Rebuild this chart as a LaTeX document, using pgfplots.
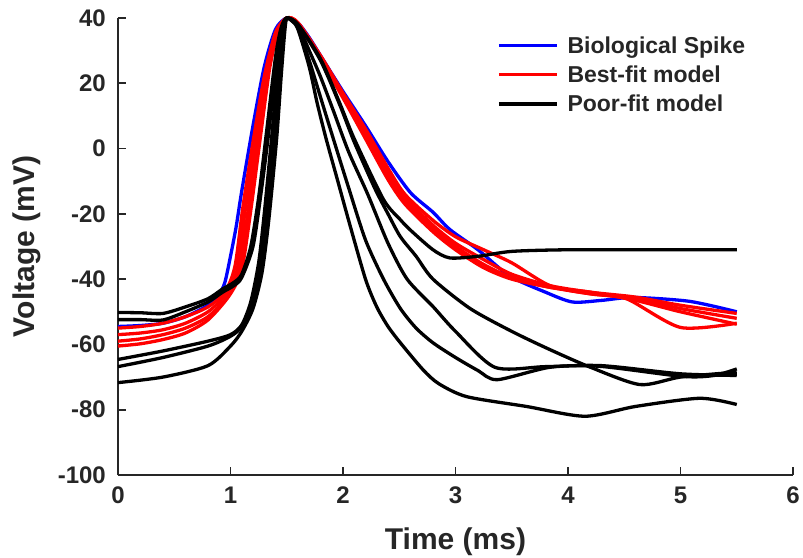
\documentclass[border=0pt]{standalone}
\usepackage{fontspec}
\setmainfont{Liberation Sans}
\usepackage{pgfplots}
\pgfplotsset{compat=1.18}
\definecolor{axgray}{RGB}{38,38,38}
\begin{document}
\begin{tikzpicture}
\useasboundingbox (-118pt,-82pt) rectangle (685pt,475pt);
\begin{axis}[
  anchor=south west, at={(0pt,0pt)},
  scale only axis, width=675pt, height=457pt,
  xmin=0, xmax=6, ymin=-100, ymax=40,
  xtick={0,1,2,3,4,5,6}, ytick={-100,-80,-60,-40,-20,0,20,40},
  axis x line=bottom, axis y line=left,
  axis line style={-, line width=2.2pt, color=axgray},
  tick align=inside, major tick length=8pt,
  tick style={line width=1.8pt, color=axgray},
  /pgf/number format/assume math mode=true,
  xticklabel={\textbf{\pgfmathprintnumber{\tick}}},
  yticklabel={\textbf{\pgfmathprintnumber{\tick}}},
  tick label style={font=\fontsize{24}{28}\selectfont\bfseries, text=axgray},
  yticklabel style={anchor=east, inner sep=0pt, xshift=-12pt},
  xticklabel style={anchor=north, inner sep=0pt, yshift=-12pt},
  xlabel={Time (ms)}, ylabel={Voltage (mV)},
  label style={font=\fontsize{30}{34}\selectfont\bfseries, text=axgray, inner sep=0pt},
  xlabel style={at={(axis description cs:0.5,-0.1455)}, anchor=center},
  ylabel style={at={(axis description cs:-0.135,0.5)}, anchor=center},
  clip=false,
  legend style={at={(axis description cs:0.5615,0.962)}, anchor=north west, draw=none, fill=none,
    font=\fontsize{23}{27}\selectfont\bfseries, text=axgray, row sep=9pt, inner sep=0pt,
    nodes={inner sep=1pt}},
  legend cell align=left,
  legend image code/.code={\draw[#1] (0pt,0pt) -- (58pt,0pt); \path (66pt,0pt);},
  every axis plot/.append style={line width=3.3pt, smooth, tension=0.45, line join=round},
]
% Biological spike
\addplot[blue] coordinates {(0,-54.5)(0.2,-54.2)(0.4,-53.5)(0.6,-51.5)(0.8,-48)(0.9,-44.5)(0.95,-41)(1.0,-33)(1.05,-24)(1.1,-13)(1.2,7)(1.3,25)(1.4,36.5)(1.5,40)(1.6,38.5)(1.7,34)(1.8,28.5)(2.0,17.5)(2.2,7)(2.4,-4)(2.6,-13.5)(2.8,-19.5)(2.95,-24.8)(3.2,-31)(3.48,-39)(3.8,-44)(4.04,-47)(4.3,-46.5)(4.58,-45.6)(5.08,-46.8)(5.5,-50)};
\addlegendentry{Biological Spike}
% Best-fit models
\addplot[red] coordinates {(0,-55)(0.2,-54.5)(0.4,-53.5)(0.6,-51.5)(0.8,-48.5)(0.95,-44)(1.04,-36)(1.11,-18)(1.2,2)(1.3,22)(1.4,35.5)(1.5,40)(1.6,38.5)(1.8,28.5)(2.0,17)(2.2,6)(2.4,-6)(2.55,-14)(2.8,-22)(3.0,-27)(3.25,-31)(3.5,-35)(3.84,-42)(4.2,-44.5)(4.52,-46)(5.0,-54.8)(5.5,-53.5)};
\addlegendentry{Best-fit model}
\addplot[red, forget plot] coordinates {(0,-57)(0.2,-56.5)(0.4,-55.5)(0.6,-53.5)(0.8,-50)(0.95,-45)(1.06,-37)(1.13,-19)(1.22,2)(1.31,23)(1.41,35.5)(1.5,40)(1.6,38.5)(1.8,28)(2.0,16.5)(2.2,5)(2.4,-7.5)(2.55,-15)(2.8,-23.5)(3.0,-29)(3.25,-34)(3.5,-38.5)(3.84,-42)(4.2,-44)(4.6,-45.5)(5.0,-48)(5.5,-50.5)};
\addplot[red, forget plot] coordinates {(0,-59)(0.2,-58.3)(0.4,-57)(0.6,-55)(0.8,-51.5)(0.97,-45.5)(1.08,-37)(1.16,-18)(1.24,3)(1.33,24)(1.42,36)(1.5,40)(1.6,38.5)(1.8,28)(2.0,16)(2.2,4)(2.4,-8.5)(2.55,-16)(2.8,-24.5)(3.0,-30)(3.25,-35.5)(3.5,-39.5)(3.84,-42.5)(4.2,-44)(4.6,-46.5)(5.0,-50)(5.5,-53.8)};
\addplot[red, forget plot] coordinates {(0,-60.5)(0.2,-59.8)(0.4,-58.5)(0.6,-56.5)(0.8,-52.5)(0.99,-45)(1.1,-37)(1.18,-19)(1.26,2)(1.35,25)(1.43,36.5)(1.5,40)(1.6,38)(1.8,27.5)(2.0,15.5)(2.2,3)(2.4,-9.5)(2.55,-17)(2.8,-25.5)(3.0,-31)(3.25,-36.5)(3.5,-40)(3.84,-42.5)(4.2,-44.5)(4.6,-46)(5.0,-49)(5.5,-52)};
% Poor-fit models
\addplot[black] coordinates {(0,-50.2)(0.2,-50.3)(0.4,-50.5)(0.6,-48.5)(0.8,-46)(0.93,-43)(1.03,-41)(1.1,-38.5)(1.18,-30)(1.25,-15)(1.32,5)(1.4,28)(1.45,37)(1.5,40)(1.6,38)(1.8,27.5)(1.97,14)(2.1,3)(2.36,-15.6)(2.51,-21.8)(2.6,-25)(2.8,-31)(2.95,-33.5)(3.2,-33)(3.5,-31.5)(4.0,-31)(4.8,-31)(5.5,-31)};
\addlegendentry{Poor-fit model}
\addplot[black, forget plot] coordinates {(0,-52.4)(0.2,-52.4)(0.4,-52.5)(0.6,-50)(0.8,-47)(0.93,-44)(1.03,-42)(1.1,-39.5)(1.2,-30)(1.27,-14)(1.34,5)(1.42,30)(1.46,37)(1.5,40)(1.6,38)(1.8,27)(1.97,13.5)(2.1,2)(2.28,-12)(2.4,-20)(2.51,-27)(2.65,-33)(2.8,-40)(3.13,-49)(3.5,-56)(3.84,-61.6)(4.2,-67)(4.64,-72.3)(5.0,-70)(5.5,-68.5)};
\addplot[black, forget plot] coordinates {(0,-64.6)(0.4,-62)(0.8,-59)(1.0,-57)(1.1,-54)(1.18,-47)(1.25,-35)(1.3,-20)(1.37,5)(1.43,28)(1.47,37)(1.5,40)(1.6,37.5)(1.7,30)(1.8,22)(1.91,12)(2.05,-1)(2.22,-14)(2.4,-29)(2.57,-40)(2.8,-48.4)(3.0,-56)(3.35,-67)(3.8,-66.8)(4.3,-66.5)(5.0,-69)(5.5,-69.5)};
\addplot[black, forget plot] coordinates {(0,-66.8)(0.4,-64)(0.8,-60.5)(1.0,-57.5)(1.1,-54.5)(1.2,-47)(1.27,-35)(1.33,-18)(1.39,5)(1.44,28)(1.48,37.5)(1.5,40)(1.55,39)(1.6,37)(1.7,27)(1.82,13.5)(1.95,-1)(2.05,-12)(2.2,-28)(2.36,-40)(2.51,-49)(2.65,-55)(2.8,-59.5)(3.0,-64)(3.2,-68)(3.37,-70.8)(3.84,-67)(4.28,-66.7)(5.02,-69.8)(5.3,-69.5)(5.5,-67.5)};
\addplot[black, forget plot] coordinates {(0,-71.7)(0.4,-70)(0.8,-66.5)(1.0,-60.5)(1.1,-56)(1.2,-49)(1.28,-38)(1.34,-22)(1.41,3)(1.45,22)(1.48,35)(1.5,40)(1.55,39)(1.6,36.5)(1.7,25)(1.77,14)(1.85,3)(1.95,-9.5)(2.05,-22)(2.2,-40)(2.3,-48.5)(2.4,-54.5)(2.51,-59.5)(2.71,-67.7)(2.85,-72)(3.1,-76)(3.63,-79)(4.15,-82)(4.6,-79)(5.17,-76.5)(5.5,-78.4)};
\end{axis}
\end{tikzpicture}
\end{document}
